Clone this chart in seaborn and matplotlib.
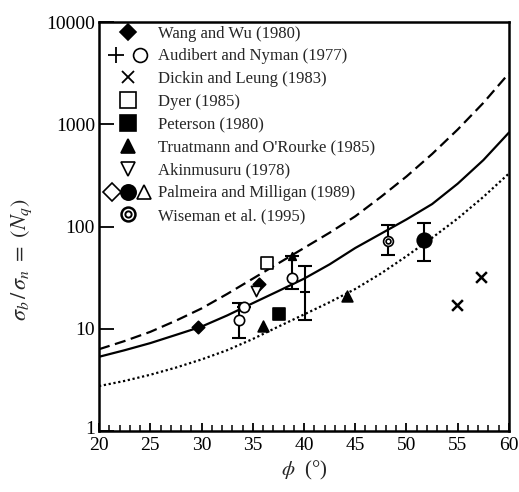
import numpy as np
import pandas as pd
import matplotlib
matplotlib.use("Agg")
import matplotlib.pyplot as plt
from matplotlib.lines import Line2D
from matplotlib.legend_handler import HandlerTuple
from matplotlib.ticker import FixedLocator, FixedFormatter, MultipleLocator, NullLocator
from matplotlib.transforms import ScaledTranslation
import seaborn as sns

# ---------------- data ----------------
phi_curve = [20, 22.5, 25, 27.5, 30, 32.5, 35, 37.5, 40, 42.5, 45, 47.5, 50, 52.5, 55, 57.5, 60]
nq_dashed = [6.31, 7.59, 9.33, 12.0, 15.8, 21.9, 30.9, 43.7, 61.7, 87.1, 126, 195, 309, 513, 891, 1622, 3162]
nq_solid = [5.32, 6.17, 7.24, 8.71, 10.5, 13.5, 17.8, 23.4, 30.9, 42.7, 61.7, 85.1, 117.5, 166, 263, 447, 832]
nq_dotted = [2.75, 3.09, 3.55, 4.17, 5.01, 6.17, 7.94, 10.5, 13.8, 18.2, 24.5, 34.7, 51.3, 77.6, 120, 195, 331]

wang_phi = [29.7, 35.6]
wang_nq = [10.3, 27.7]
aud_plus_phi = [40.1]
aud_plus_nq = [22.7]
aud_plus_lo = [12.2]
aud_plus_hi = [41.3]
aud_circ_phi = [33.7, 34.1, 38.8]
aud_circ_nq = [12.2, 16.2, 31.5]
aud_circ_lo = [8.2, 16.2, 24.5]
aud_circ_hi = [17.7, 16.2, 51.0]
dickin_phi = [54.9, 57.3]
dickin_nq = [17.0, 31.8]
dyer_phi = [36.4]
dyer_nq = [43.6]
peterson_phi = [37.6]
peterson_nq = [14.1]
truat_phi = [36.0, 44.2]
truat_nq = [10.6, 21.0]
akin_phi = [35.3]
akin_nq = [23.5]
palm_fill_phi = [51.7]
palm_fill_nq = [73.6]
palm_fill_lo = [46.0]
palm_fill_hi = [109.0]
palm_tri_phi = [38.8]
palm_tri_nq = [51.0]
wise_phi = [48.2]
wise_nq = [73.0]
wise_lo = [52.5]
wise_hi = [103.0]

legend_labels = ["Wang and Wu (1980)", "Audibert and Nyman (1977)", "Dickin and Leung (1983)",
                 "Dyer (1985)", "Peterson (1980)", "Truatmann and O'Rourke (1985)",
                 "Akinmusuru (1978)", "Palmeira and Milligan (1989)", "Wiseman et al. (1995)"]

y_ticks = [1, 10, 100, 1000, 10000]
y_ticklabels = ["1", "10", "100", "1000", "10000"]
x_ticks = [20, 25, 30, 35, 40, 45, 50, 55, 60]

# ---------------- style ----------------
sns.set_style("ticks")
plt.rcParams["font.family"] = ["Liberation Serif", "DejaVu Serif"]
plt.rcParams["mathtext.fontset"] = "stix"

fig = plt.figure(figsize=(5.19, 4.92), dpi=100)
ax = fig.add_axes([0.1908, 0.124, 0.7899, 0.831])

df = pd.DataFrame({"phi": phi_curve * 3,
                   "nq": nq_dashed + nq_solid + nq_dotted,
                   "curve": ["dashed"] * len(phi_curve) + ["solid"] * len(phi_curve) + ["dotted"] * len(phi_curve)})
styles = {"dashed": (0, (5, 2.5)), "solid": "-", "dotted": (0, (1, 1.2))}
for name, sub in df.groupby("curve"):
    sns.lineplot(data=sub, x="phi", y="nq", ax=ax, color="black", lw=1.6,
                 linestyle=styles[name], legend=False)

k = "black"
eb = dict(fmt="none", ecolor=k, elinewidth=1.5, capsize=5, capthick=1.5, zorder=3)

def errs(v, lo, hi):
    return [np.array(v) - np.array(lo), np.array(hi) - np.array(v)]

ax.errorbar(aud_plus_phi, aud_plus_nq, yerr=errs(aud_plus_nq, aud_plus_lo, aud_plus_hi), **eb)
ax.errorbar(aud_circ_phi, aud_circ_nq, yerr=errs(aud_circ_nq, aud_circ_lo, aud_circ_hi), **eb)
ax.errorbar(palm_fill_phi, palm_fill_nq, yerr=errs(palm_fill_nq, palm_fill_lo, palm_fill_hi), **eb)
ax.errorbar(wise_phi, wise_nq, yerr=errs(wise_nq, wise_lo, wise_hi), **eb)

def pts(x, y, marker, s, filled=True, lw=1.2):
    sns.scatterplot(x=x, y=y, ax=ax, marker=marker, s=s,
                    color=k if filled else "white", edgecolor=k, linewidth=lw,
                    zorder=4, legend=False)

pts(wang_phi, wang_nq, "D", 40)
ax.scatter(aud_plus_phi, aud_plus_nq, marker="_", s=60, color=k, linewidths=1.5, zorder=4)
pts(aud_circ_phi, aud_circ_nq, "o", 55, filled=False)
ax.scatter(dickin_phi, dickin_nq, marker="x", s=60, color=k, linewidths=1.8, zorder=4)
pts(dyer_phi, dyer_nq, "s", 70, filled=False)
pts(peterson_phi, peterson_nq, "s", 80)
pts(truat_phi, truat_nq, "^", 60)
pts(akin_phi, akin_nq, "v", 55, filled=False)
pts(palm_fill_phi, palm_fill_nq, "o", 110)
pts(palm_tri_phi, palm_tri_nq, "^", 30)
pts(wise_phi, wise_nq, "o", 50, filled=False)
pts(wise_phi, wise_nq, "o", 12, filled=False)

# ---------------- axes ----------------
ax.set_yscale("log")
ax.set_xlim(20, 60)
ax.set_ylim(1, 10000)
ax.yaxis.set_major_locator(FixedLocator(y_ticks))
ax.yaxis.set_major_formatter(FixedFormatter(y_ticklabels))
ax.yaxis.set_minor_locator(NullLocator())
ax.xaxis.set_major_locator(FixedLocator(x_ticks))
ax.xaxis.set_minor_locator(MultipleLocator(1))
ax.tick_params(axis="x", which="major", direction="in", length=6, width=1.3, labelsize=14, pad=4, colors=k)
ax.tick_params(axis="x", which="minor", direction="in", length=4, width=1.3)
ax.tick_params(axis="y", which="major", direction="in", length=11, width=1.3, labelsize=14, pad=3, colors=k)
for sp in ax.spines.values():
    sp.set_visible(True)
    sp.set_linewidth(1.8)
    sp.set_color(k)
ax.set_xlabel(r"$\phi$  (°)", fontsize=15, labelpad=4)
ax.set_ylabel(r"$\sigma_b\,/\,\sigma_n\ =\ (N_q)$", fontsize=16)
ax.yaxis.set_label_coords(-0.158, 0.42)

fig.canvas.draw()
lab1 = ax.yaxis.get_majorticklabels()[0]
lab1.set_transform(lab1.get_transform() + ScaledTranslation(0, 2.5 / 72, fig.dpi_scale_trans))

# ---------------- legend ----------------
class Overlay(tuple):
    pass

def h(marker, ms, filled=True, mew=1.2):
    return Line2D([], [], ls="none", marker=marker, ms=ms, color=k,
                  markerfacecolor=k if filled else "white", markeredgecolor=k, markeredgewidth=mew)

handles = [
    h("D", 8),
    (h("+", 11, mew=1.3), h("o", 10, filled=False)),
    h("x", 8, mew=1.3),
    h("s", 11, filled=False),
    h("s", 11),
    h("^", 10),
    h("v", 10, filled=False),
    (h("D", 9, filled=False), h("o", 11), h("^", 10, filled=False)),
    Overlay((h("o", 10, filled=False, mew=1.8), h("o", 4.5, filled=False, mew=1.4))),
]
leg = ax.legend(handles, legend_labels, loc="upper left", bbox_to_anchor=(-0.012, 1.02),
                frameon=False, fontsize=12, handlelength=2.7, handletextpad=0.45,
                labelspacing=0.41, borderaxespad=0.3,
                handler_map={Overlay: HandlerTuple(ndivide=1), tuple: HandlerTuple(ndivide=None, pad=0.2)})

fig.savefig("out.png", dpi=100)
